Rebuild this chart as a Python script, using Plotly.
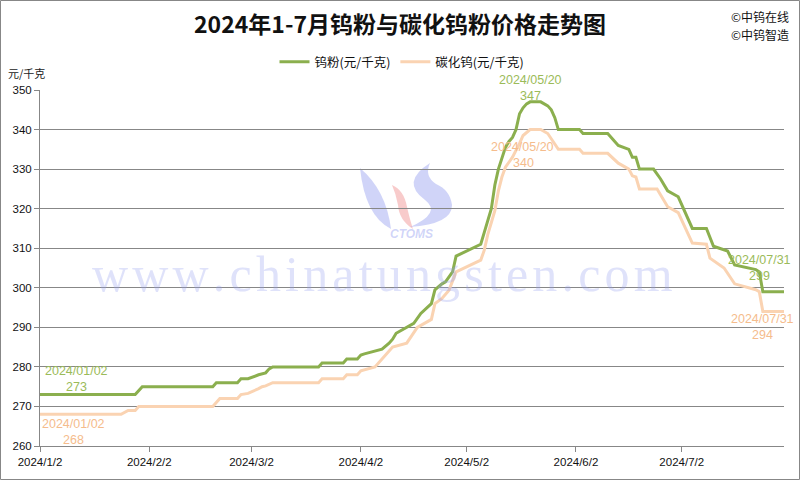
import plotly.graph_objects as go

# ---------------- data ----------------
w_dates = ["2024-01-02", "2024-01-29", "2024-01-31", "2024-02-20", "2024-02-21", "2024-02-27",
           "2024-02-28", "2024-03-01", "2024-03-04", "2024-03-06", "2024-03-07", "2024-03-08",
           "2024-03-21", "2024-03-22", "2024-03-28", "2024-03-29", "2024-04-01", "2024-04-02",
           "2024-04-03", "2024-04-08", "2024-04-10", "2024-04-11", "2024-04-12", "2024-04-15",
           "2024-04-16", "2024-04-17", "2024-04-19", "2024-04-22", "2024-04-23", "2024-04-25",
           "2024-04-26", "2024-04-28", "2024-04-29", "2024-05-06", "2024-05-07", "2024-05-08",
           "2024-05-09", "2024-05-10", "2024-05-11", "2024-05-13", "2024-05-14", "2024-05-15",
           "2024-05-16", "2024-05-17", "2024-05-18", "2024-05-19", "2024-05-20", "2024-05-23",
           "2024-05-25", "2024-05-26", "2024-05-27", "2024-05-28", "2024-06-03", "2024-06-04",
           "2024-06-11", "2024-06-14", "2024-06-17", "2024-06-18", "2024-06-19", "2024-06-20",
           "2024-06-24", "2024-06-26", "2024-06-28", "2024-07-01", "2024-07-05", "2024-07-09",
           "2024-07-11", "2024-07-15", "2024-07-17", "2024-07-23", "2024-07-24", "2024-07-25",
           "2024-07-31"]
w_values = [273, 273, 275, 275, 276, 276,
            277, 277, 278, 278.5, 279.5, 280,
            280, 281, 281, 282, 282, 283,
            283.3, 284.5, 286, 287, 288.5, 290,
            290.5, 291, 293.5, 296, 299.5, 301,
            301.5, 304, 308, 311, 314, 317,
            320, 326, 330, 335.5, 337, 338,
            340, 344, 345.5, 346.5, 347, 347,
            346, 345, 343, 340, 340, 339,
            339, 336, 335, 333, 333, 330,
            330, 327.5, 324.5, 323, 315, 315,
            310.5, 309.3, 305.8, 304.6, 304, 299,
            299]

wc_dates = ["2024-01-02", "2024-01-25", "2024-01-27", "2024-01-29", "2024-01-30", "2024-02-20",
            "2024-02-22", "2024-02-27", "2024-02-28", "2024-03-01", "2024-03-04", "2024-03-05",
            "2024-03-06", "2024-03-08", "2024-03-21", "2024-03-22", "2024-03-28", "2024-03-29",
            "2024-04-01", "2024-04-02", "2024-04-06", "2024-04-09", "2024-04-11", "2024-04-15",
            "2024-04-18", "2024-04-22", "2024-04-23", "2024-04-25", "2024-04-27", "2024-04-29",
            "2024-05-06", "2024-05-07", "2024-05-08", "2024-05-09", "2024-05-10", "2024-05-11",
            "2024-05-12", "2024-05-13", "2024-05-15", "2024-05-17", "2024-05-18", "2024-05-20",
            "2024-05-23", "2024-05-25", "2024-05-27", "2024-05-28", "2024-06-03", "2024-06-04",
            "2024-06-11", "2024-06-14", "2024-06-17", "2024-06-18", "2024-06-19", "2024-06-20",
            "2024-06-25", "2024-06-28", "2024-07-01", "2024-07-05", "2024-07-09", "2024-07-10",
            "2024-07-14", "2024-07-17", "2024-07-23", "2024-07-24", "2024-07-25", "2024-07-31"]
wc_values = [268, 268, 269, 269, 270, 270,
             272, 272, 273, 273.3, 274.5, 275,
             275.2, 276, 276, 277, 277, 278,
             278, 279, 280, 283, 285, 286,
             290, 292, 296, 297.3, 299.4, 304,
             307, 309.5, 313.5, 316.5, 319.5, 324.5,
             328, 330.5, 333, 336.5, 338.5, 340,
             340, 339, 336.5, 335, 335, 334,
             334, 331.5, 330, 328.3, 328, 325,
             325, 320.5, 319, 311.3, 311, 307.5,
             305, 301, 299.5, 299, 294, 294]

tick_dates = ["2024-01-02", "2024-02-02", "2024-03-02", "2024-04-02", "2024-05-02", "2024-06-02", "2024-07-02"]
tick_labels = ["2024/1/2", "2024/2/2", "2024/3/2", "2024/4/2", "2024/5/2", "2024/6/2", "2024/7/2"]

series_names = ["钨粉(元/千克)", "碳化钨(元/千克)"]
title_text = "2024年1-7月钨粉与碳化钨粉价格走势图"

# ---------------- styling ----------------
GREEN = "#8BAF4E"
GREEN_TXT = "#9BBB59"
ORANGE = "#FAD3B2"
ORANGE_TXT = "#F5BC8C"
GRID = "#878787"
CJK = "Noto Sans CJK SC"
LAT = "Liberation Sans"

L, R, T, B = 40, 784, 90, 446
W, H = 800, 480


def px(x):
    return (x - L) / (R - L)


def py(y):
    return (B - y) / (B - T)


fig = go.Figure()
fig.add_trace(go.Scatter(x=w_dates, y=w_values, mode="lines", name=series_names[0],
                         line=dict(color=GREEN, width=3)))
fig.add_trace(go.Scatter(x=wc_dates, y=wc_values, mode="lines", name=series_names[1],
                         line=dict(color=ORANGE, width=3)))

ann = []


def label(text, x, y, color, size=12.5, font=LAT, **kw):
    ann.append(dict(text=text, x=px(x), y=py(y), xref="paper", yref="paper", showarrow=False,
                    font=dict(color=color, size=size, family=font), xanchor="center",
                    yanchor="middle", **kw))


# data point labels (first / peak / last)
label(w_dates[0].replace("-", "/"), 76, 371, GREEN_TXT)
label(str(w_values[0]), 76, 387, GREEN_TXT)
label(wc_dates[0].replace("-", "/"), 73, 424, ORANGE_TXT)
label(str(wc_values[0]), 73, 440, ORANGE_TXT)
pk = w_values.index(max(w_values))
label(w_dates[pk].replace("-", "/"), 530, 80, GREEN_TXT)
label(str(int(w_values[pk])), 530, 96, GREEN_TXT)
pk2 = wc_values.index(max(wc_values))
label(wc_dates[pk2].replace("-", "/"), 522, 147, ORANGE_TXT)
label(str(int(wc_values[pk2])), 523, 163, ORANGE_TXT)
label(w_dates[-1].replace("-", "/"), 759, 260, GREEN_TXT)
label(str(w_values[-1]), 759, 276, GREEN_TXT)
label(wc_dates[-1].replace("-", "/"), 762, 319, ORANGE_TXT)
label(str(wc_values[-1]), 762, 335, ORANGE_TXT)

# texts
label("元/千克", 26, 73, "#222222", size=11, font=CJK)
label("©中钨在线", 760, 16, "#111111", size=12, font=CJK)
label("©中钨智造", 760, 35, "#111111", size=12, font=CJK)

# watermark
wm = "\u200a".join("www.chinatungsten.com")
label(wm, 382, 274, "rgba(150,160,240,0.30)", size=50, font="Liberation Serif")
label("<i><b>CTOMS</b></i>", 411, 234, "rgba(150,160,240,0.45)", size=12, font=LAT)


def path(cmds):
    out = []
    for c in cmds:
        if isinstance(c, str):
            out.append(c)
        else:
            out.append(f"{px(c[0]):.4f},{py(c[1]):.4f}")
    return " ".join(out)


shapes = [
    dict(type="path", xref="paper", yref="paper", layer="between", line=dict(width=0),
         fillcolor="rgba(150,160,240,0.45)",
         path=path(["M", (360, 168), "Q", (365, 216), (391, 229), "Q", (386, 190), (360, 168), "Z"])),
    dict(type="path", xref="paper", yref="paper", layer="between", line=dict(width=0),
         fillcolor="rgba(240,140,140,0.45)",
         path=path(["M", (392, 185), "Q", (404, 190), (407, 207), "Q", (410, 220), (413, 229),
                    "Q", (399, 220), (398, 205), "Q", (396, 194), (392, 185), "Z"])),
    dict(type="path", xref="paper", yref="paper", layer="between", line=dict(width=0),
         fillcolor="rgba(150,160,240,0.45)",
         path=path(["M", (430, 163), "Q", (400, 182), (425, 200), "Q", (442, 213), (410, 227),
                    "Q", (452, 224), (452, 205), "Q", (450, 190), (436, 184), "Q", (424, 176), (430, 163), "Z"])),
    # outer border
    dict(type="rect", xref="paper", yref="paper", x0=px(0.5), x1=px(799.5), y0=py(479.5), y1=py(0.5),
         line=dict(color=GRID, width=1), fillcolor="rgba(0,0,0,0)", layer="above"),
]

fig.update_layout(
    width=W, height=H,
    margin=dict(l=L, r=W - R, t=T, b=H - B),
    paper_bgcolor="white", plot_bgcolor="white",
    title=dict(text=f"<b>{title_text}</b>", x=0.5, xref="container", xanchor="center",
               y=1 - 25 / H, yref="container", yanchor="middle",
               font=dict(family=CJK, size=23, color="#111111")),
    legend=dict(orientation="h", x=px(402), y=py(62), xanchor="center", yanchor="middle",
                font=dict(family=CJK, size=12.5, color="#111111"), itemwidth=30,
                bgcolor="rgba(0,0,0,0)"),
    annotations=ann,
    shapes=shapes,
    showlegend=True,
)
fig.update_xaxes(type="date", range=["2024-01-02", "2024-07-31"], tickvals=tick_dates,
                 ticktext=tick_labels, showgrid=False, showline=True, linecolor=GRID, linewidth=1,
                 ticks="outside", ticklen=5, tickcolor=GRID, zeroline=False,
                 tickfont=dict(family=LAT, size=11.5, color="#111111"), automargin=False)
fig.update_yaxes(range=[260, 350], dtick=10, tick0=260, showgrid=True, gridcolor=GRID, gridwidth=1,
                 showline=True, linecolor=GRID, linewidth=1, ticks="outside", ticklen=5,
                 tickcolor=GRID, zeroline=False, tickfont=dict(family=LAT, size=11.5, color="#111111"),
                 automargin=False)

fig.write_html("out.html", config={"displayModeBar": False},
               post_script="document.body.style.margin='0';document.body.style.padding='0';")
